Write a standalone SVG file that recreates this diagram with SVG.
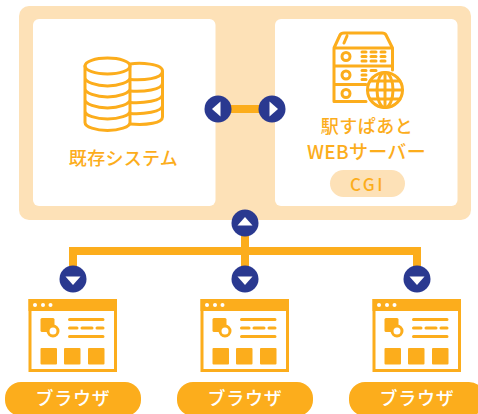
<svg xmlns="http://www.w3.org/2000/svg" width="478" height="414" viewBox="0 0 478 414">
<style>
.t{font-family:"Noto Sans CJK JP","Noto Sans",sans-serif;font-weight:500;font-size:18px;text-anchor:middle;fill:#fcad1c;letter-spacing:.3px}
.w{fill:#fff;letter-spacing:.8px}
.l{fill:none;stroke:#fcad1c;stroke-width:3;stroke-linejoin:round;stroke-linecap:round}
.f{fill:#fcad1c}
.c{fill:#2a3990}
.a{fill:#fff}
</style>
<defs>
<g id="win">
<rect x="30" y="300.500" width="85.500" height="70" fill="#fff" stroke="#fcad1c" stroke-width="3"/>
<rect class="f" x="28.500" y="299" width="88.500" height="12"/>
<circle cx="35" cy="305" r="2" fill="#fff"/><circle cx="43" cy="305" r="2" fill="#fff"/><circle cx="50.500" cy="305" r="2" fill="#fff"/>
<rect class="f" x="40.500" y="318" width="14" height="14" rx="1.500"/>
<circle cx="53" cy="331" r="5" fill="#fff" stroke="#fcad1c" stroke-width="3"/>
<path class="l" d="M69.500 319.500H103M69.500 328H77M82 328H92M97 328H103M69.500 336.500H103"/>
<rect class="f" x="40.500" y="348" width="16.500" height="16.500" rx="1"/>
<rect class="f" x="64" y="348" width="16.500" height="16.500" rx="1"/>
<rect class="f" x="88" y="348" width="16.500" height="16.500" rx="1"/>
</g>
</defs>
<rect id="bg" x="19" y="6" width="452" height="214" rx="10" fill="#fde1b7"/>
<g id="connectors">
<path d="M218 109H272M245 223V251M73 279V251H417V279M245 251V279" fill="none" stroke="#fcad1c" stroke-width="8"/>
</g>
<g id="system">
<rect x="33" y="19" width="182.500" height="187" rx="6" fill="#fff"/>
<g>
<path class="l" d="M130 64C140 62.500 162.500 63.500 162.500 71V117C162.500 123 147 125.500 130 124M130 79.500C143 80.500 162.500 79 162.500 71M130 91C143 92 162.500 90 162.500 83M130 102.500C143 103.500 162.500 101 162.500 94.500M130 113.500C143 114.500 162.500 112 162.500 105.500"/>
<ellipse class="l" cx="107.500" cy="66" rx="22.500" ry="8"/>
<path class="l" d="M85 66V122.500C85 127 96 130.500 107.500 130.500S130 127 130 122.500V66M85 77.500C85 82 96 86 107.500 86S130 82 130 77.500M85 88.500C85 93 96 97 107.500 97S130 93 130 88.500M85 99.500C85 104 96 108 107.500 108S130 104 130 99.500M85 111C85 115.500 96 119 107.500 119S130 115.500 130 111"/>
</g>
<text class="t" x="123.500" y="164.500">既存システム</text>
</g>
<g id="server">
<rect x="275" y="19" width="182.500" height="187" rx="6" fill="#fff"/>
<g>
<path class="l" d="M334 48L340 35Q341 33 344 33H382Q385 33 386 35L392.500 48V70M334 48V101.500H366M334 48H392.500M334 66H392.500M334 84.500H366M344 43L347 36"/>
<circle class="l" cx="346" cy="56.500" r="4"/><circle class="l" cx="346" cy="75" r="4"/><circle class="l" cx="346" cy="93.500" r="4"/>
<path class="l" stroke-width="2" d="M362 52H366M362 56.500H366M362 61H366M371 52H376M371 56.500H376M371 61H376M381 52H385M381 56.500H385M381 61H385M362 70.500H366M362 75H366M362 79.500H366M371 70.500H376"/>
<circle class="l" cx="385" cy="90" r="17.500" fill="#fff"/>
<ellipse class="l" cx="385" cy="90" rx="8" ry="17.500"/>
<path class="l" d="M385 72.500V107.500M367.500 90H402.500M370 81H400M370 99H400"/>
</g>
<text class="t" x="367" y="133" style="letter-spacing:.5px">駅すぱあと</text>
<text class="t" x="366.500" y="158.500" style="font-size:19px;letter-spacing:.3px">WEBサーバー</text>
<rect x="330" y="170" width="75" height="27" rx="13.500" fill="#fde1b7"/>
<text class="t" x="367.500" y="190.500" style="font-size:17px;letter-spacing:2.500px">CGI</text>
</g>
<g id="arrows">
<circle class="c" cx="218" cy="109" r="13.500"/><path class="a" d="M212 109L220.500 101.500V116.500Z"/>
<circle class="c" cx="272" cy="109" r="13.500"/><path class="a" d="M278 109L269.500 101.500V116.500Z"/>
<circle class="c" cx="245" cy="223" r="13.500"/><path class="a" d="M245 217L237.500 225.500H252.500Z"/>
<circle class="c" cx="73" cy="279" r="13.500"/><path class="a" d="M73 285L65.500 276.500H80.500Z"/>
<circle class="c" cx="245" cy="279" r="13.500"/><path class="a" d="M245 285L237.500 276.500H252.500Z"/>
<circle class="c" cx="417" cy="279" r="13.500"/><path class="a" d="M417 285L409.500 276.500H424.500Z"/>
</g>
<g id="browser1">
<use href="#win"/>
<rect class="f" x="5" y="382" width="136" height="34" rx="16"/>
<text class="t w" x="73" y="405">ブラウザ</text>
</g>
<g id="browser2">
<use href="#win" x="172"/>
<rect class="f" x="177" y="382" width="136" height="34" rx="16"/>
<text class="t w" x="245" y="405">ブラウザ</text>
</g>
<g id="browser3">
<use href="#win" x="344"/>
<rect class="f" x="349" y="382" width="136" height="34" rx="16"/>
<text class="t w" x="417" y="405">ブラウザ</text>
</g>
</svg>
